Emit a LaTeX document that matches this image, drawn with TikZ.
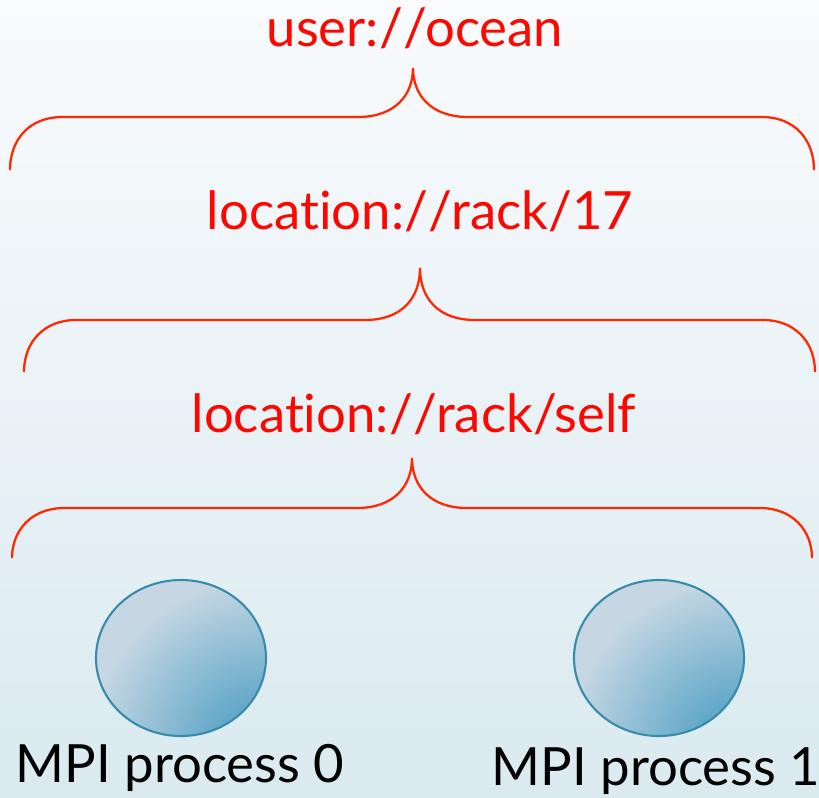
\documentclass[tikz,border=0pt]{standalone}
\usepackage{fontspec}
\setmainfont{Lato}[Ligatures={NoCommon}]
\definecolor{bracered}{RGB}{255,40,0}
\definecolor{labelred}{RGB}{252,8,0}
\definecolor{procfill}{RGB}{198,215,227}
\definecolor{procdark}{RGB}{60,150,190}
\definecolor{procedge}{RGB}{55,140,172}
\begin{document}
\begin{tikzpicture}[x=0.02cm, y=-0.02cm, every node/.style={font=\fontsize{30}{32}\selectfont}]
  % background
  \useasboundingbox (0,0) rectangle (819,798);
  \shade[top color={rgb,255:red,249;green,251;blue,253}, bottom color={rgb,255:red,218;green,234;blue,239}] (0,0) rectangle (819,798);

  % labels
  \node[text=labelred] (ocean) at (415,28) {user:/\kern0.5pt/ocean};
  \node[text=labelred] (rack17) at (420,211) {location:/\kern0.5pt/rack/17};
  \node[text=labelred] (self) at (414,414) {location:/\kern0.5pt/rack/self};

  % braces: left x / right x / end y / flat y / tip x / tip y
  \foreach \lx/\rx/\ey/\fy/\tx/\ty in {10/814/170/117/413/68, 24/815/372/320/420/268, 12/812/558/508/412/458}{
    \draw[bracered, line width=1.3pt]
      (\lx,\ey) .. controls (\lx,\fy+22) and (\lx+20,\fy) .. (\lx+52,\fy)
      -- (\tx-55,\fy) .. controls (\tx-18,\fy) and (\tx,\fy-22) .. (\tx,\ty)
      .. controls (\tx,\fy-22) and (\tx+18,\fy) .. (\tx+55,\fy)
      -- (\rx-52,\fy) .. controls (\rx-20,\fy) and (\rx,\fy+22) .. (\rx,\ey);
  }

  % processes
  \foreach \name/\cx in {p0/181, p1/659}{
    \begin{scope}
      \clip (\cx,658) ellipse (85 and 78);
      \fill[procfill] (\cx,658) ellipse (85 and 78);
      \shade[inner color=procdark, outer color=procfill] (\cx+82,752) circle (175);
    \end{scope}
    \draw[procedge, line width=1.2pt] (\cx,658) ellipse (85 and 78);
    \coordinate (\name) at (\cx,658);
  }
  \node (lab0) at (180,768) {MPI process 0};
  \node (lab1) at (656,771) {MPI process 1};
\end{tikzpicture}
\end{document}
